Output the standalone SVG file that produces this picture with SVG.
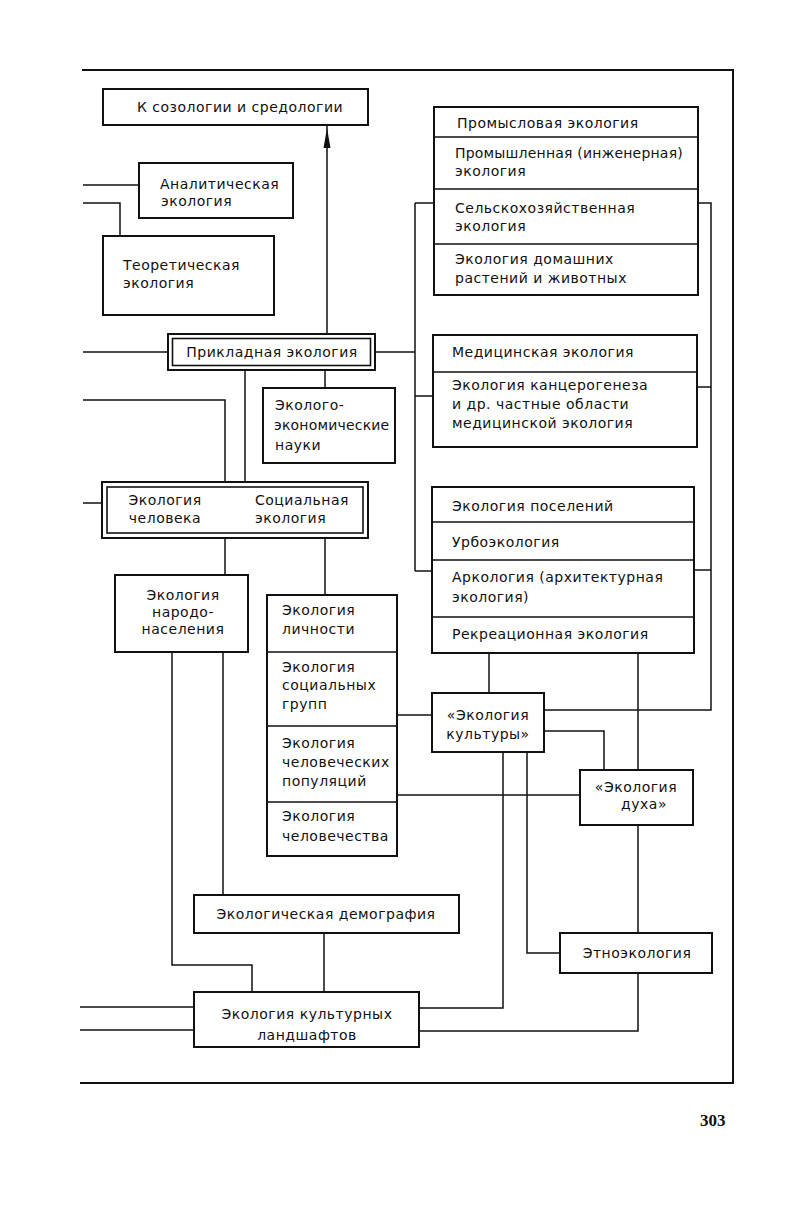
<svg xmlns="http://www.w3.org/2000/svg" width="810" height="1205" viewBox="0 0 810 1205">
<style>
.b{fill:#fff;stroke:#111;stroke-width:2}
.d{fill:none;stroke:#111;stroke-width:1.6}
.c{fill:none;stroke:#111;stroke-width:1.5}
.f{fill:none;stroke:#111;stroke-width:2}
text{font-family:"DejaVu Sans","Liberation Sans",sans-serif;font-size:14px;letter-spacing:0.5px;fill:#111}
.m{text-anchor:middle}
.t{letter-spacing:0.2px}
.pg{font-family:"Liberation Serif",serif;font-size:17px;font-weight:bold;letter-spacing:0}
</style>
<rect width="810" height="1205" fill="#fff"/>
<path class="f" d="M82,70 H733 V1083 H80"/>
<g id="connectors">
<path class="c" d="M327,125 V334"/>
<polygon points="327,128 323.5,148 330.5,148" fill="#111"/>
<path class="c" d="M83,185 H139"/>
<path class="c" d="M83,203 H120 V236"/>
<path class="c" d="M83,352 H168"/>
<path class="c" d="M375,352 H415"/>
<path class="c" d="M415,203 V571"/>
<path class="c" d="M415,203 H434"/>
<path class="c" d="M415,396 H433"/>
<path class="c" d="M415,571 H432"/>
<path class="c" d="M698,203 H711 V710 H544"/>
<path class="c" d="M697,387 H711"/>
<path class="c" d="M694,570 H711"/>
<path class="c" d="M245,370 V482"/>
<path class="c" d="M325,370 V388"/>
<path class="c" d="M83,400 H225 V575"/>
<path class="c" d="M83,503 H102"/>
<path class="c" d="M325,538 V595"/>
<path class="c" d="M172,652 V965 H252 V992"/>
<path class="c" d="M223,652 V895"/>
<path class="c" d="M397,715 H432"/>
<path class="c" d="M397,795 H580"/>
<path class="c" d="M489,653 V693"/>
<path class="c" d="M544,731 H604 V770"/>
<path class="c" d="M638,653 V770"/>
<path class="c" d="M638,825 V933"/>
<path class="c" d="M638,973 V1031 H419"/>
<path class="c" d="M503,752 V1008 H419"/>
<path class="c" d="M527,752 V953 H560"/>
<path class="c" d="M324,933 V992"/>
<path class="c" d="M80,1007 H194"/>
<path class="c" d="M80,1030 H194"/>
</g>
<g id="n-sozology">
<rect class="b" x="103" y="89" width="265" height="36"/>
<text class="m" x="240" y="112">К созологии и средологии</text>
</g>
<g id="n-analytic">
<rect class="b" x="139" y="163" width="154" height="55"/>
<text x="160" y="189">Аналитическая</text>
<text x="161" y="206">экология</text>
</g>
<g id="n-theoretic">
<rect class="b" x="103" y="236" width="171" height="79"/>
<text x="123" y="270">Теоретическая</text>
<text x="123" y="288">экология</text>
</g>
<g id="n-promysl">
<rect class="b" x="434" y="107" width="264" height="188"/>
<path class="d" d="M434,137 H698 M434,189 H698 M434,244 H698"/>
<text x="457" y="128">Промысловая экология</text>
<text x="455" y="158" class="t">Промышленная (инженерная)</text>
<text x="455" y="176">экология</text>
<text x="455" y="213">Сельскохозяйственная</text>
<text x="455" y="231">экология</text>
<text x="455" y="264">Экология домашних</text>
<text x="455" y="283">растений и животных</text>
</g>
<g id="n-prikl">
<rect class="b" x="168" y="334" width="207" height="36"/>
<rect class="d" x="172.5" y="338.5" width="198" height="27"/>
<text class="m" x="272" y="357">Прикладная экология</text>
</g>
<g id="n-ekonom">
<rect class="b" x="263" y="388" width="132" height="75"/>
<text x="275" y="410">Эколого-</text>
<text x="274" y="430" class="t">экономические</text>
<text x="275" y="450">науки</text>
</g>
<g id="n-medic">
<rect class="b" x="433" y="335" width="264" height="112"/>
<path class="d" d="M433,372 H697"/>
<text x="452" y="357">Медицинская экология</text>
<text x="452" y="390">Экология канцерогенеза</text>
<text x="452" y="409">и др. частные области</text>
<text x="452" y="428">медицинской экология</text>
</g>
<g id="n-human">
<rect class="b" x="102" y="482" width="266" height="56"/>
<rect class="d" x="107" y="487" width="256" height="46"/>
<text class="m" x="165" y="505">Экология</text>
<text class="m" x="165" y="523">человека</text>
<text x="255" y="505">Социальная</text>
<text x="255" y="523">экология</text>
</g>
<g id="n-poselen">
<rect class="b" x="432" y="487" width="262" height="166"/>
<path class="d" d="M432,522 H694 M432,560 H694 M432,617 H694"/>
<text x="452" y="511">Экология поселений</text>
<text x="452" y="547">Урбоэкология</text>
<text x="452" y="582">Аркология (архитектурная</text>
<text x="452" y="602">экология)</text>
<text x="452" y="639">Рекреационная экология</text>
</g>
<g id="n-narod">
<rect class="b" x="115" y="575" width="133" height="77"/>
<text class="m" x="183" y="600">Экология</text>
<text class="m" x="183" y="617">народо-</text>
<text class="m" x="183" y="634">населения</text>
</g>
<g id="n-lichn">
<rect class="b" x="267" y="595" width="130" height="261"/>
<path class="d" d="M267,652 H397 M267,726 H397 M267,802 H397"/>
<text x="282" y="615">Экология</text>
<text x="282" y="634">личности</text>
<text x="282" y="672">Экология</text>
<text x="282" y="690">социальных</text>
<text x="282" y="709">групп</text>
<text x="282" y="748">Экология</text>
<text x="282" y="767">человеческих</text>
<text x="282" y="786">популяций</text>
<text x="282" y="821">Экология</text>
<text x="282" y="841">человечества</text>
</g>
<g id="n-kultury">
<rect class="b" x="432" y="693" width="112" height="59"/>
<text class="m" x="488" y="720">«Экология</text>
<text class="m" x="488" y="739">культуры»</text>
</g>
<g id="n-duha">
<rect class="b" x="580" y="770" width="113" height="55"/>
<text class="m" x="636" y="792">«Экология</text>
<text class="m" x="644" y="809">духа»</text>
</g>
<g id="n-demogr">
<rect class="b" x="194" y="895" width="265" height="38"/>
<text class="m" x="326" y="919">Экологическая демография</text>
</g>
<g id="n-etno">
<rect class="b" x="560" y="933" width="152" height="40"/>
<text class="m" x="637" y="958">Этноэкология</text>
</g>
<g id="n-landsh">
<rect class="b" x="194" y="992" width="225" height="55"/>
<text class="m" x="307" y="1019">Экология культурных</text>
<text class="m" x="307" y="1040">ландшафтов</text>
</g>
<text class="pg" x="700" y="1126">303</text>
</svg>
